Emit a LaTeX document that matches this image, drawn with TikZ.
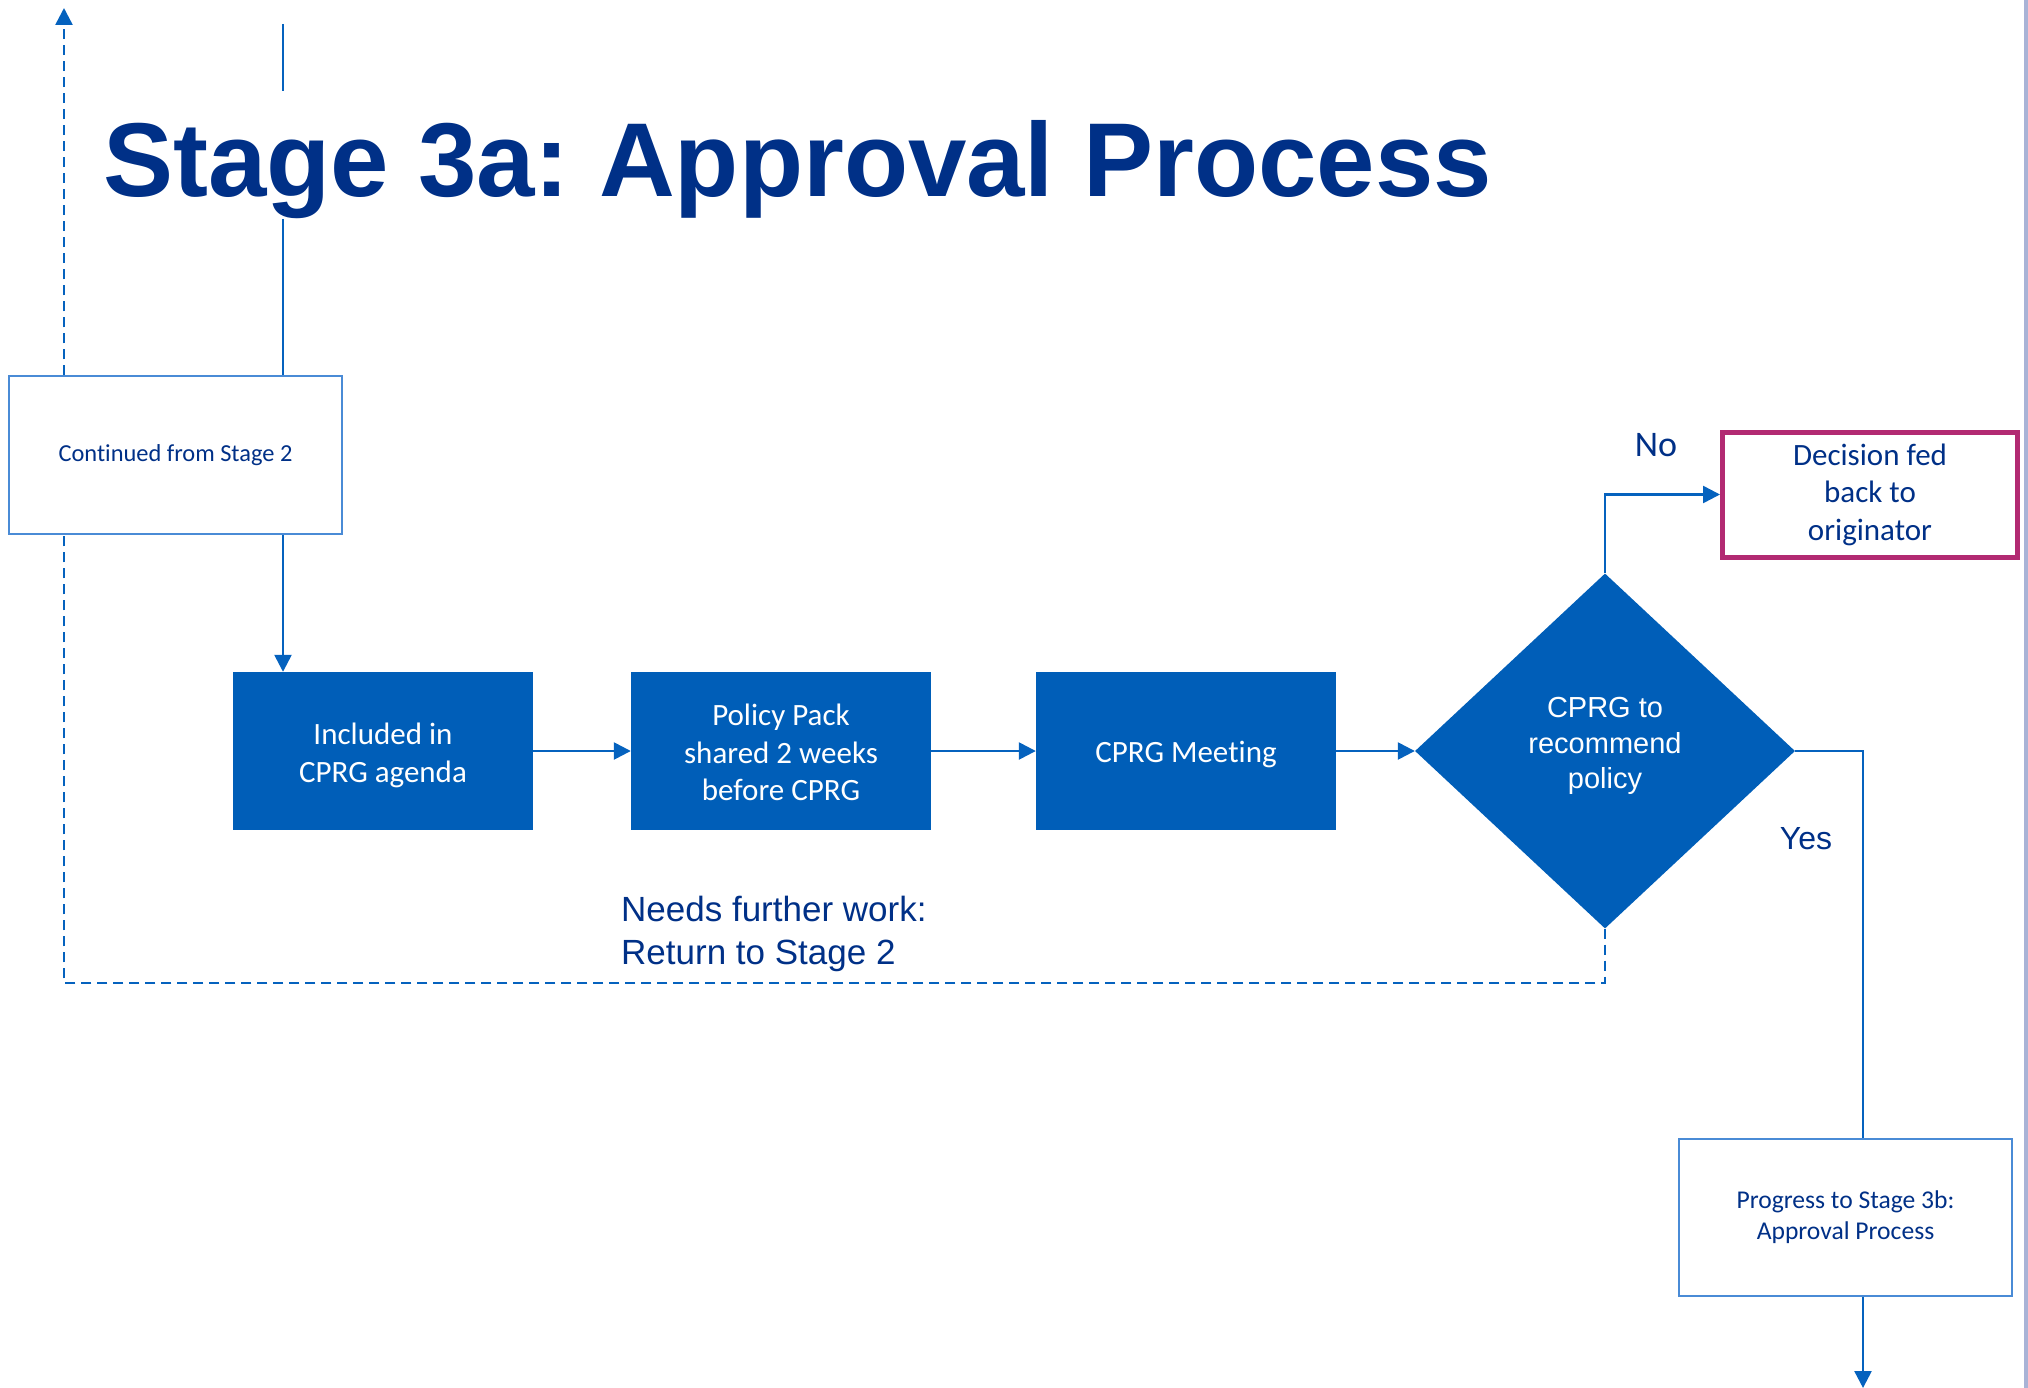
\documentclass[tikz,border=0pt]{standalone}
\usepackage{fontspec}
\newfontfamily\arialf{Liberation Sans}
\newfontfamily\calf[Ligatures=NoCommon]{Carlito}
\usetikzlibrary{shapes.geometric,arrows.meta,calc}
\definecolor{nblue}{HTML}{005EB8}
\definecolor{navy}{HTML}{003087}
\definecolor{lineblue}{HTML}{0562BE}
\definecolor{outl}{HTML}{4A8BD6}
\definecolor{mag}{HTML}{B22A72}
\definecolor{edgestrip}{HTML}{A9B3D6}
\frenchspacing
\begin{document}
\begin{tikzpicture}[x=1pt,y=-1pt,
  conn/.style={draw=lineblue, line width=2.5pt},
  tipstyle/.style={-{Triangle[length=17pt,width=17pt]}},
  arr/.style={conn,tipstyle},
  dashconn/.style={conn, dash pattern=on 10pt off 6pt},
  solidbox/.style={rectangle, fill=nblue, text=white, minimum width=300pt, minimum height=158pt, inner sep=0pt, align=center, font=\calf\fontsize{31}{37.5}\selectfont},
  outbox/.style={rectangle, draw=outl, line width=1.5pt, fill=white, minimum width=333pt, minimum height=158pt, inner sep=0pt, align=center, text=navy, font=\calf\fontsize{24.4}{31}\selectfont},
  lbl/.style={text=navy, inner sep=0pt}
]
\useasboundingbox (0,0) rectangle (2028,1388);
\fill[edgestrip] (2024,0) rectangle (2028,1388);

% title
\node[anchor=base west, inner sep=0pt, text=navy, font=\arialf\bfseries\fontsize{105}{120}\selectfont] (title) at (103,197) {Stage 3a: Approval Process};

% nodes
\node[outbox] (cont) at (175.5,455) {Continued from Stage 2};
\node[solidbox] (inc) at (383,751) {\rule{0pt}{30pt}Included in\\CPRG agenda};
\node[solidbox] (pack) at (781,751) {\rule{0pt}{25pt}Policy Pack\\shared 2 weeks\\before CPRG};
\node[solidbox] (meet) at (1186,751) {\rule{0pt}{28pt}CPRG Meeting};
\node[diamond, fill=nblue, minimum width=380pt, minimum height=355pt, inner sep=0pt] (dia) at (1605,751) {};
\node[text=white, inner sep=0pt, align=center, font=\arialf\fontsize{29}{35.5}\selectfont] (diatext) at (1605,746) {CPRG to\\recommend\\policy};
\node[rectangle, draw=mag, line width=5pt, fill=white, minimum width=295pt, minimum height=125pt, inner sep=0pt, align=center, text=navy, font=\calf\fontsize{31}{37.5}\selectfont] (dec) at (1870,494.5) {Decision fed\\back to\\originator};
\node[outbox, minimum height=157pt, font=\calf\fontsize{25.6}{31}\selectfont] (prog) at (1845.5,1217.5) {Progress to Stage 3b:\\Approval Process};

% labels
\node[lbl, font=\calf\fontsize{36}{40}\selectfont] (no) at (1656,445) {No};
\node[lbl, font=\arialf\fontsize{32}{36}\selectfont] (yes) at (1806,839) {Yes};
\node[lbl, anchor=north west, align=left, font=\arialf\fontsize{35}{43}\selectfont] (needs) at (621,896) {Needs further work:\\Return to Stage 2};

% coordinates
\coordinate (stop) at (283,24);
\coordinate (gapa) at (283,91);
\coordinate (gapb) at (283,219);
\coordinate (yc) at (1863,751);
\coordinate (pend) at (1863,1388);
\coordinate (dc) at (64,983);
\coordinate (dtop) at (64,8);

% connectors
\draw[conn] (stop) -- (gapa);
\draw[conn] (gapb) -- (gapb |- cont.north);
\draw[arr] (cont.south -| gapb) -- (gapb |- inc.north);
\draw[arr] (inc) -- (pack);
\draw[arr] (pack) -- (meet);
\draw[arr] (meet) -- (dia);
\draw[arr] (dia.north) |- (dec.west);
\draw[conn] (dia.east) -- (yc) -- (yc |- prog.north);
\draw[arr] (yc |- prog.south) -- (pend);
\draw[dashconn] (dia.south) |- (dc) -- (dc |- cont.south);
\draw[dashconn, tipstyle] (dc |- cont.north) -- (dtop);
\end{tikzpicture}
\end{document}
